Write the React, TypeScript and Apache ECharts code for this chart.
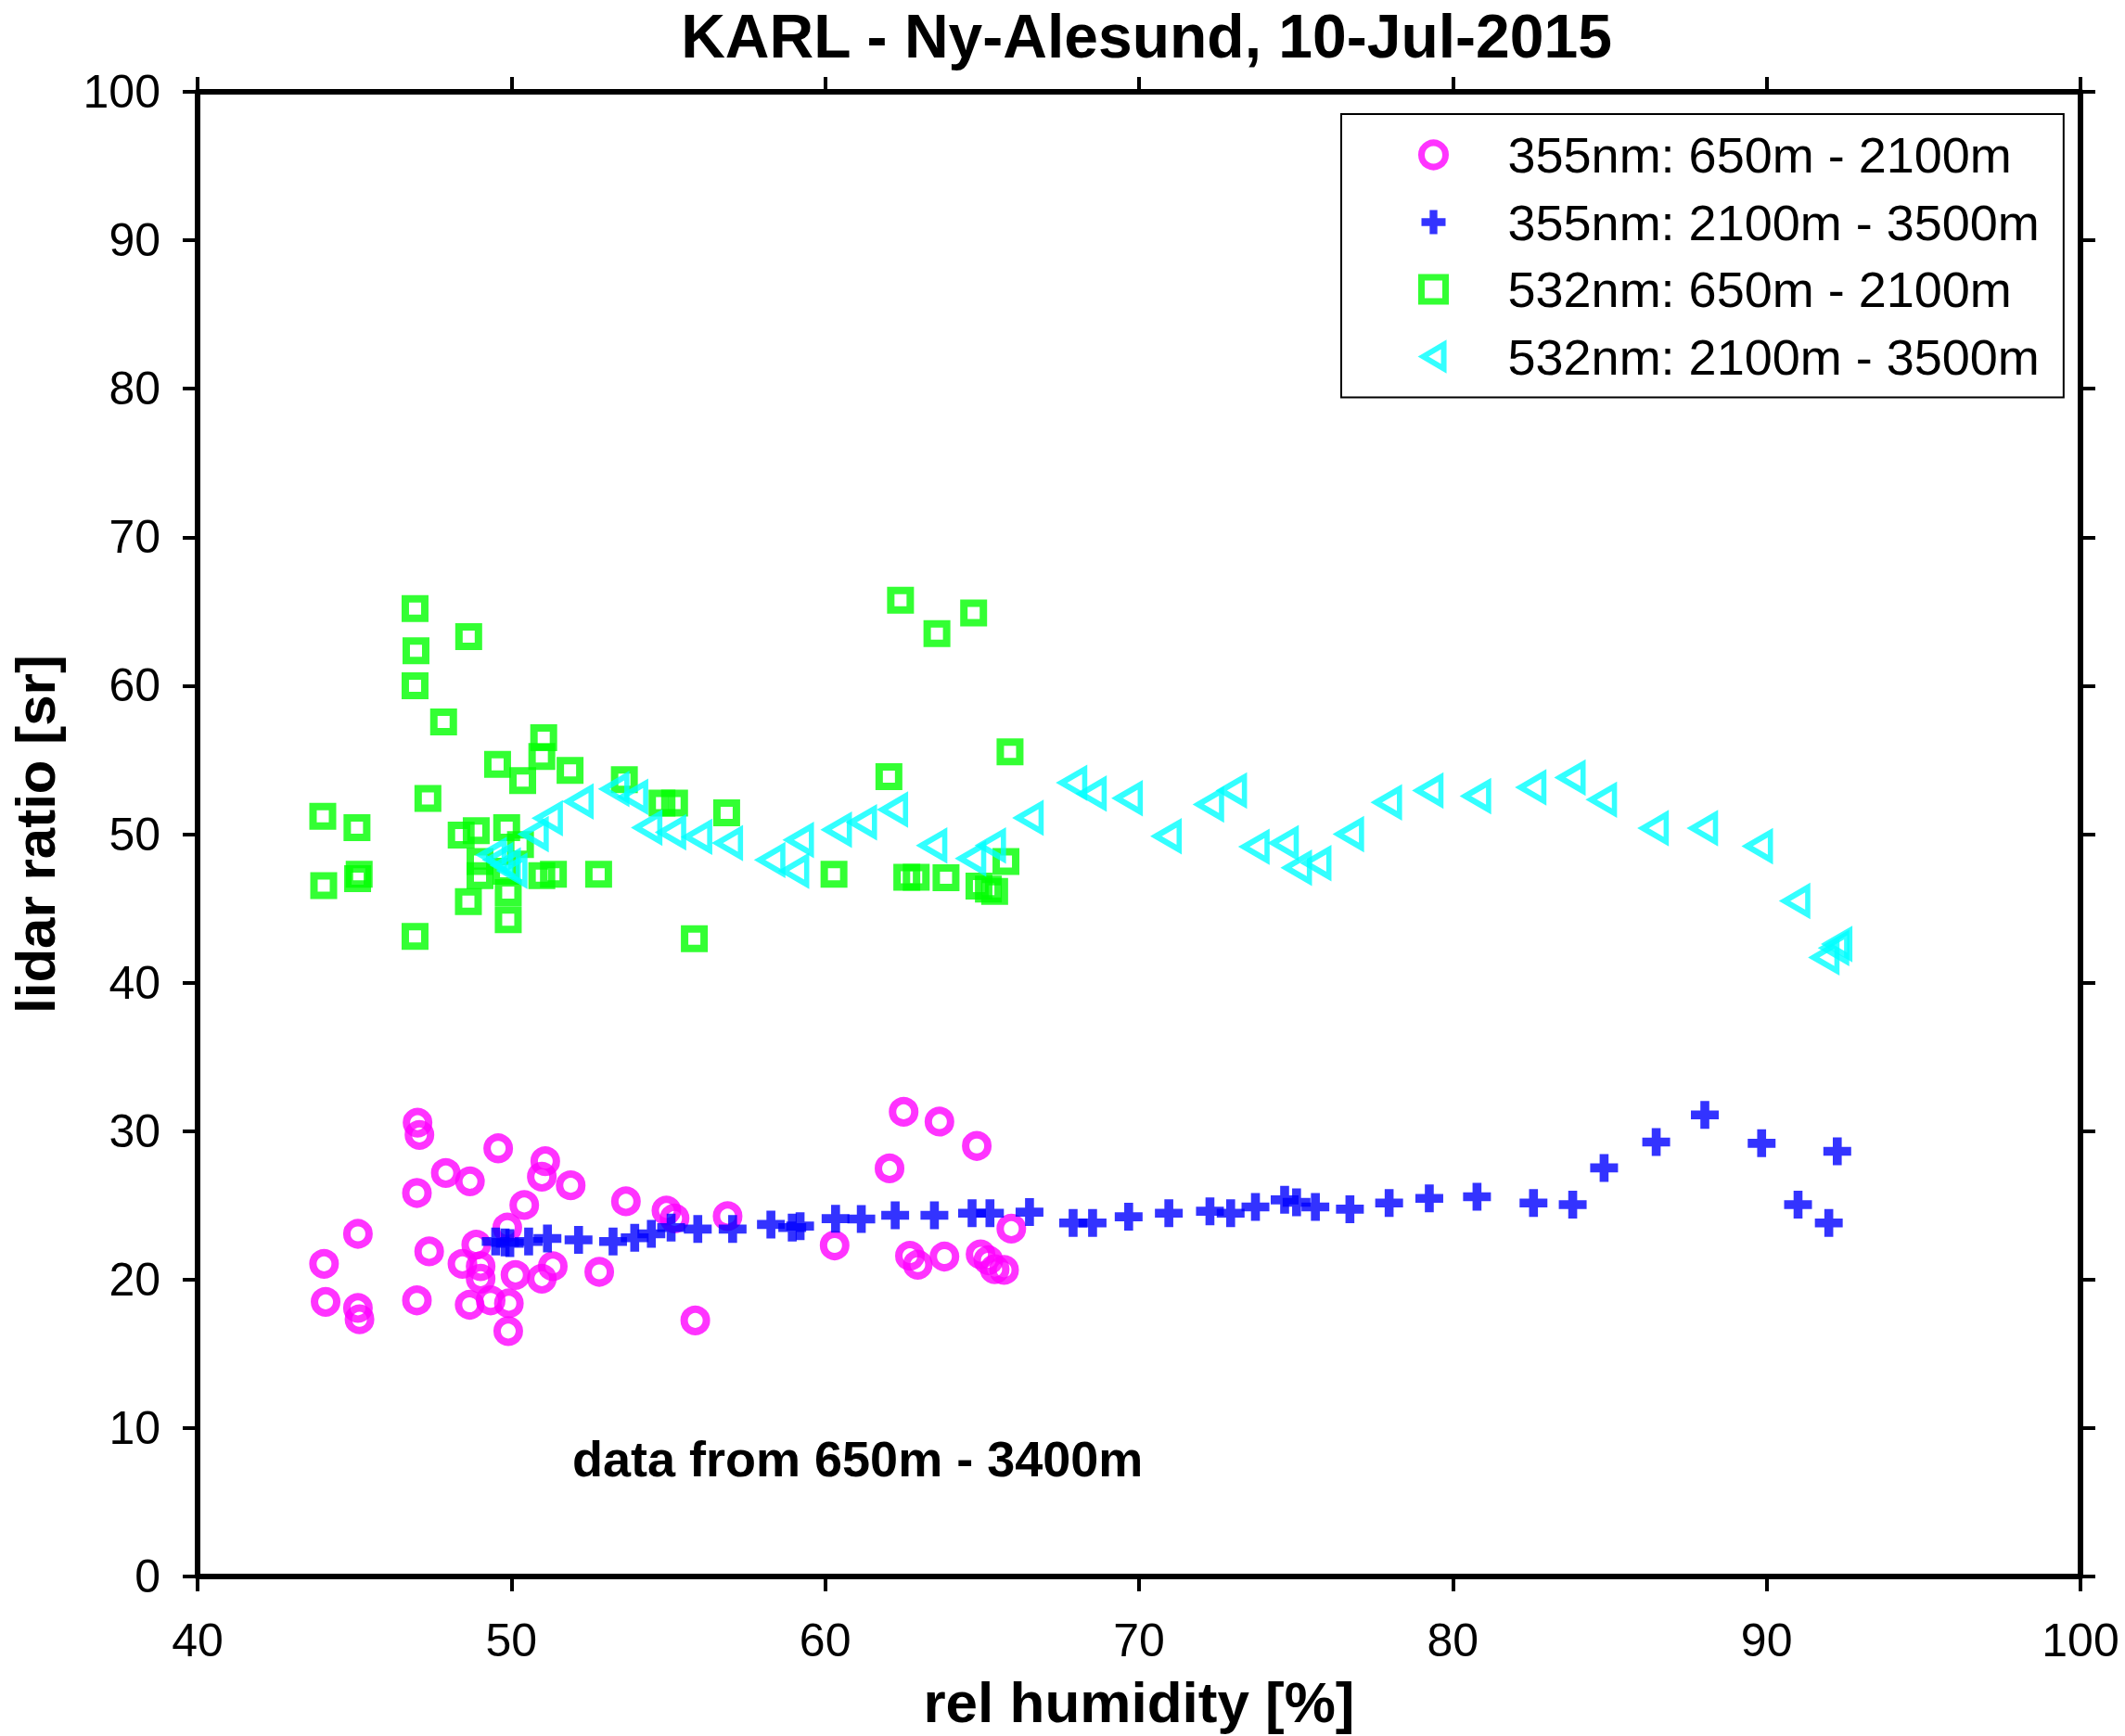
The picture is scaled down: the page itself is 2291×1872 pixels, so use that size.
import React, { useEffect, useRef } from "react";
import * as echarts from "echarts";

const FONT = "'Liberation Sans', Arial, Helvetica, sans-serif";

const titleText = "KARL - Ny-Alesund, 10-Jul-2015";
const xAxisName = "rel humidity [%]";
const yAxisName = "lidar ratio [sr]";
const noteText = "data from 650m - 3400m";

const seriesNames = [
  "355nm: 650m - 2100m",
  "355nm: 2100m - 3500m",
  "532nm: 650m - 2100m",
  "532nm: 2100m - 3500m",
];
const seriesColors = ["#ff00ff", "#0000ff", "#00ff00", "#00ffff"];

const xTicks = { min: 40, max: 100, step: 10 };
const yTicks = { min: 0, max: 100, step: 10 };

// 355nm, 650m - 2100m (magenta circles)
const lr355Low: [number, number][] = [
  [44.03, 21.06], [44.08, 18.5], [45.11, 23.08], [45.11, 18.09], [45.16, 17.32],
  [47.01, 30.57], [47.07, 29.74], [46.99, 25.83], [46.99, 18.6], [47.38, 21.9],
  [47.91, 27.18], [48.68, 26.62], [48.44, 21.06], [48.67, 18.3], [48.88, 22.35],
  [49.02, 20.9], [49.02, 20.06], [49.34, 18.6], [49.58, 28.84], [49.87, 23.5],
  [49.92, 18.4], [49.9, 16.53], [50.13, 20.31], [50.41, 25.02], [50.97, 20.06],
  [51.32, 20.9], [51.08, 27.97], [50.97, 26.93], [51.89, 26.35], [52.8, 20.52],
  [53.65, 25.27], [54.94, 24.65], [55.2, 24.12], [55.86, 17.25], [56.89, 24.27],
  [60.3, 22.3], [62.05, 27.49], [62.5, 31.3], [62.7, 21.6], [62.95, 21.0],
  [63.64, 30.64], [63.8, 21.55], [64.83, 29.0], [64.95, 21.7], [65.2, 21.3],
  [65.4, 20.7], [65.7, 20.65], [65.93, 23.43],
];

// 355nm, 2100m - 3500m (blue crosses)
const lr355High: [number, number][] = [
  [49.5, 22.56], [49.8, 22.5], [49.95, 22.45], [50.55, 22.56], [51.15, 22.77],
  [52.14, 22.67], [53.24, 22.56], [53.93, 22.81], [54.46, 23.08], [55.09, 23.5],
  [55.94, 23.4], [57.05, 23.4], [58.27, 23.71], [58.95, 23.5], [59.2, 23.6],
  [60.33, 24.1], [61.15, 24.08], [62.23, 24.33], [63.48, 24.33], [64.68, 24.47],
  [65.25, 24.47], [66.51, 24.54], [67.9, 23.81], [68.52, 23.81], [69.67, 24.23],
  [70.95, 24.47], [72.26, 24.6], [72.92, 24.47], [73.71, 24.89], [74.64, 25.37],
  [75.02, 25.2], [75.62, 24.89], [76.72, 24.74], [77.97, 25.16], [79.25, 25.47],
  [80.77, 25.58], [82.57, 25.16], [83.82, 25.05], [84.82, 27.52], [86.48, 29.26],
  [88.03, 31.09], [89.84, 29.18], [91.0, 25.05], [91.98, 23.81], [92.25, 28.64],
];

// 532nm, 650m - 2100m (green squares)
const lr532Low: [number, number][] = [
  [43.99, 51.2], [44.02, 46.53], [45.08, 50.44], [45.1, 47.0], [45.15, 47.3],
  [46.93, 65.2], [46.96, 62.35], [46.93, 60.0], [46.93, 43.12], [47.34, 52.4],
  [47.84, 57.56], [48.64, 63.3], [48.4, 49.93], [48.88, 50.24], [48.63, 45.45],
  [49.0, 48.15], [49.0, 47.2], [49.56, 54.7], [49.85, 50.44], [49.83, 47.5],
  [49.9, 46.07], [49.9, 44.24], [50.29, 49.3], [50.36, 53.6], [51.03, 56.5],
  [50.97, 55.23], [50.97, 47.2], [51.34, 47.3], [51.87, 54.3], [52.78, 47.3],
  [53.6, 53.67], [54.8, 52.1], [55.2, 52.1], [55.83, 42.95], [56.86, 51.44],
  [60.28, 47.3], [62.03, 53.88], [62.4, 65.75], [62.6, 47.1], [62.9, 47.1],
  [63.56, 63.5], [63.85, 47.07], [64.73, 64.9], [64.9, 46.5], [65.2, 46.3],
  [65.4, 46.15], [65.76, 48.15], [65.89, 55.54],
];

// 532nm, 2100m - 3500m (cyan left triangles)
const lr532High: [number, number][] = [
  [49.4, 48.6], [49.61, 48.26], [49.85, 47.9], [50.06, 47.53], [50.74, 50.0],
  [51.19, 51.07], [52.17, 52.2], [53.31, 53.04], [53.91, 52.52], [54.36, 50.44],
  [55.12, 50.13], [55.95, 49.82], [56.93, 49.4], [58.28, 48.26], [59.04, 47.53],
  [59.19, 49.61], [60.4, 50.3], [61.2, 50.8], [62.19, 51.65], [63.44, 49.24],
  [64.68, 48.36], [65.31, 49.24], [66.51, 51.1], [67.9, 53.46], [68.52, 52.73],
  [69.67, 52.42], [70.91, 49.86], [72.26, 52.0], [72.99, 52.94], [73.71, 49.15],
  [74.64, 49.4], [75.06, 47.74], [75.68, 48.05], [76.72, 50.0], [77.93, 52.14],
  [79.25, 52.94], [80.77, 52.56], [82.53, 53.15], [83.78, 53.81], [84.78, 52.32],
  [86.43, 50.4], [88.0, 50.4], [89.75, 49.19], [90.94, 45.5], [91.87, 41.7],
  [92.18, 42.33], [92.28, 42.6],
];

const PLUS_PATH =
  "path://M3.4,0 L6.6,0 L6.6,3.4 L10,3.4 L10,6.6 L6.6,6.6 L6.6,10 L3.4,10 L3.4,6.6 L0,6.6 L0,3.4 L3.4,3.4 Z";
const TRI_LEFT_PATH = "path://M0,10 L17,0 L17,20 Z";

export default function App() {
  const ref = useRef<HTMLDivElement>(null);

  useEffect(() => {
    document.body.style.margin = "0";
    const chart = echarts.init(ref.current!, null, { renderer: "svg" });

    const axisCommon = {
      axisLine: { show: true, onZero: false, lineStyle: { color: "#000", width: 6 } },
      axisTick: { show: true, inside: false, length: 16, lineStyle: { color: "#000", width: 4 } },
      splitLine: { show: false },
    };

    const hollow = (color: string, w: number) => ({
      color: "rgba(0,0,0,0)",
      borderColor: color,
      borderWidth: w,
    });

    const option: any = {
      animation: false,
      backgroundColor: "#ffffff",
      title: {
        text: titleText,
        left: 1236,
        top: 6,
        padding: 0,
        textAlign: "center",
        textStyle: { fontFamily: FONT, fontSize: 66, fontWeight: "bold", color: "#000" },
      },
      grid: {
        left: 213,
        right: 48,
        top: 99,
        bottom: 172,
        containLabel: false,
        outerBoundsMode: "none",
      },
      xAxis: [
        {
          type: "value",
          position: "bottom",
          min: xTicks.min,
          max: xTicks.max,
          interval: xTicks.step,
          name: xAxisName,
          nameLocation: "middle",
          nameGap: 104,
          nameTextStyle: { fontFamily: FONT, fontSize: 62, fontWeight: "bold", color: "#000" },
          axisLabel: { fontFamily: FONT, fontSize: 50, color: "#000", margin: 44 },
          ...axisCommon,
        },
        {
          type: "value",
          position: "top",
          min: xTicks.min,
          max: xTicks.max,
          interval: xTicks.step,
          axisLabel: { show: false },
          ...axisCommon,
        },
      ],
      yAxis: [
        {
          type: "value",
          position: "left",
          min: yTicks.min,
          max: yTicks.max,
          interval: yTicks.step,
          name: yAxisName,
          nameLocation: "middle",
          nameGap: 145,
          nameTextStyle: { fontFamily: FONT, fontSize: 60, fontWeight: "bold", color: "#000" },
          axisLabel: { fontFamily: FONT, fontSize: 50, color: "#000", margin: 40 },
          ...axisCommon,
        },
        {
          type: "value",
          position: "right",
          min: yTicks.min,
          max: yTicks.max,
          interval: yTicks.step,
          axisLabel: { show: false },
          ...axisCommon,
        },
      ],
      legend: {
        orient: "vertical",
        left: 1446,
        top: 123,
        padding: [17, 26, 17, 83],
        borderColor: "#000",
        borderWidth: 2,
        backgroundColor: "#fff",
        itemWidth: 26,
        itemHeight: 26,
        itemGap: 18.5,
        selectedMode: false,
        textStyle: {
          fontFamily: FONT,
          fontSize: 54,
          color: "#000",
          padding: [0, 0, 0, 62],
        },
        data: [
          { name: seriesNames[0], icon: "circle", itemStyle: hollow(seriesColors[0], 7) },
          { name: seriesNames[1], icon: PLUS_PATH, itemStyle: { color: seriesColors[1], borderWidth: 0 } },
          { name: seriesNames[2], icon: "rect", itemStyle: hollow(seriesColors[2], 7) },
          { name: seriesNames[3], icon: TRI_LEFT_PATH, itemStyle: hollow(seriesColors[3], 6) },
        ],
      },
      graphic: [
        {
          type: "text",
          left: 617,
          top: 1546,
          style: {
            text: noteText,
            fontFamily: FONT,
            fontSize: 54,
            fontWeight: "bold",
            fill: "#000",
          },
        },
      ],
      series: [
        {
          name: seriesNames[0],
          type: "scatter",
          data: lr355Low,
          symbol: "circle",
          symbolSize: 24,
          itemStyle: hollow(seriesColors[0], 8),
        },
        {
          name: seriesNames[1],
          type: "scatter",
          data: lr355High,
          symbol: PLUS_PATH,
          symbolSize: 30,
          itemStyle: { color: seriesColors[1] },
        },
        {
          name: seriesNames[2],
          type: "scatter",
          data: lr532Low,
          symbol: "rect",
          symbolSize: 21,
          itemStyle: hollow(seriesColors[2], 8),
        },
        {
          name: seriesNames[3],
          type: "scatter",
          data: lr532High,
          symbol: TRI_LEFT_PATH,
          symbolSize: [25, 29],
          itemStyle: hollow(seriesColors[3], 6),
        },
      ],
    };

    chart.setOption(option);
    return () => chart.dispose();
  }, []);

  return <div ref={ref} style={{ width: 2291, height: 1872, background: "#fff" }} />;
}
